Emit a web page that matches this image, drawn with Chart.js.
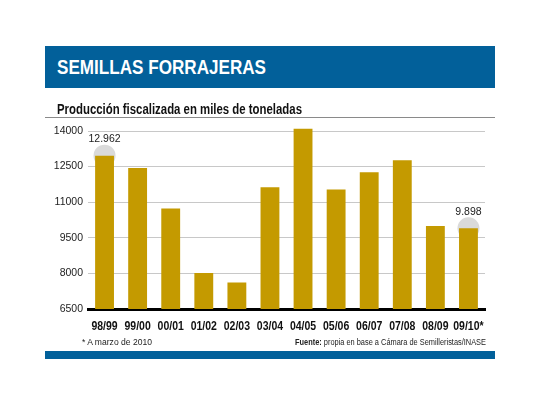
<!DOCTYPE html>
<html>
<head>
<meta charset="utf-8">
<script src="https://cdn.jsdelivr.net/npm/chart.js@4.4.1/dist/chart.umd.min.js"></script>
<style>
  html, body { margin: 0; padding: 0; background: #fff; }
  #wrap { position: relative; width: 540px; height: 405px; overflow: hidden; font-family: "Liberation Sans", Arial, sans-serif; }
  #chart { position: absolute; left: 0; top: 0; }
  .squeeze { transform-origin: 0 0; white-space: nowrap; position: absolute; }
  #banner { position: absolute; left: 45px; top: 46px; width: 450px; height: 42px; background: #02609a; }
  #title { left: 57px; top: 56px; color: #fff; font-weight: bold; font-size: 20px; }
  #subtitle { left: 57px; top: 101px; color: #111; font-weight: bold; font-size: 14px; }
  #rule { position: absolute; left: 45px; top: 117px; width: 450px; height: 1px; background: #8a8a8a; }
  #note { left: 82px; top: 337px; font-size: 8.5px; color: #222; }
  #source { left: 295px; top: 337px; font-size: 8.5px; color: #222; }
  #footer { position: absolute; left: 45px; top: 351px; width: 450px; height: 8px; background: #02609a; }
</style>
</head>
<body>
<div id="wrap">
  <canvas id="chart" width="540" height="405"></canvas>
  <div id="banner"></div>
  <div id="title" class="squeeze" data-w="209">SEMILLAS FORRAJERAS</div>
  <div id="subtitle" class="squeeze" data-w="245">Producción fiscalizada en miles de toneladas</div>
  <div id="rule"></div>
  <div id="note" class="squeeze" data-w="70">* A marzo de 2010</div>
  <div id="source" class="squeeze" data-w="191"><b>Fuente:</b> propia en base a Cámara de Semilleristas/INASE</div>
  <div id="footer"></div>
</div>
<script>
const campaigns = ["98/99", "99/00", "00/01", "01/02", "02/03", "03/04", "04/05", "05/06", "06/07", "07/08", "08/09", "09/10*"];
const production = [12962, 12440, 10730, 8020, 7615, 11630, 14100, 11530, 12260, 12765, 10000, 9898];
const yTicks = [6500, 8000, 9500, 11000, 12500, 14000];
const highlighted = [0, 11];

const barColor = "#c49a00";

// the original uses a condensed face; squeeze the html texts to their widths
document.querySelectorAll(".squeeze").forEach(el => {
  const w = el.getBoundingClientRect().width;
  el.style.transform = `scaleX(${Number(el.dataset.w) / w})`;
});

// gray bubble behind the highlighted bar tops, their value labels,
// and condensed category labels under the axis
const highlightPlugin = {
  id: "highlight",
  beforeDatasetsDraw(chart) {
    const ctx = chart.ctx;
    const meta = chart.getDatasetMeta(0);
    ctx.save();
    ctx.fillStyle = "#dadada";
    highlighted.forEach(i => {
      const bar = meta.data[i];
      ctx.beginPath();
      ctx.arc(bar.x, bar.y, 11, 0, Math.PI * 2);
      ctx.fill();
    });
    ctx.restore();
  },
  afterDatasetsDraw(chart) {
    const ctx = chart.ctx;
    const meta = chart.getDatasetMeta(0);
    ctx.save();
    ctx.fillStyle = "#222";
    ctx.font = "10.5px 'Liberation Sans', Arial, sans-serif";
    ctx.textAlign = "center";
    ctx.textBaseline = "bottom";
    highlighted.forEach(i => {
      const bar = meta.data[i];
      const txt = production[i].toLocaleString("de-DE");
      ctx.fillText(txt, bar.x, bar.y - 11);
    });
    ctx.restore();
  },
  afterDraw(chart) {
    const ctx = chart.ctx;
    const x = chart.scales.x;
    const y = chart.chartArea.bottom + 18;
    ctx.save();
    ctx.fillStyle = "#111";
    ctx.font = "bold 12.5px 'Liberation Sans', Arial, sans-serif";
    ctx.textAlign = "center";
    ctx.textBaseline = "middle";
    campaigns.forEach((c, i) => {
      ctx.save();
      ctx.translate(x.getPixelForValue(i), y);
      ctx.scale(0.84, 1);
      ctx.fillText(c, 0, 0);
      ctx.restore();
    });
    ctx.restore();
  }
};

new Chart(document.getElementById("chart").getContext("2d"), {
  type: "bar",
  data: {
    labels: campaigns,
    datasets: [{
      data: production,
      backgroundColor: barColor,
      barPercentage: 0.57,
      categoryPercentage: 1,
      clip: { left: 0, top: 10, right: 0, bottom: 0 }
    }]
  },
  options: {
    responsive: false,
    animation: false,
    layout: { padding: { left: 40, right: 55, top: 131, bottom: 70 } },
    plugins: { legend: { display: false }, tooltip: { enabled: false } },
    scales: {
      x: {
        grid: { display: false },
        border: { color: "#000", width: 3 },
        ticks: { display: false },
        afterFit(scale) { scale.height = 26; }
      },
      y: {
        min: 6500,
        max: 14000,
        afterBuildTicks(scale) { scale.ticks = yTicks.map(v => ({ value: v })); },
        grid: { color: "#c8c8c8", lineWidth: 1, drawTicks: false },
        border: { display: false },
        ticks: {
          color: "#222",
          padding: 5,
          font: { family: "'Liberation Sans', Arial", size: 10.5 },
          callback: v => String(v)
        },
        afterFit(scale) { scale.width = 48; }
      }
    }
  },
  plugins: [highlightPlugin]
});
</script>
</body>
</html>
